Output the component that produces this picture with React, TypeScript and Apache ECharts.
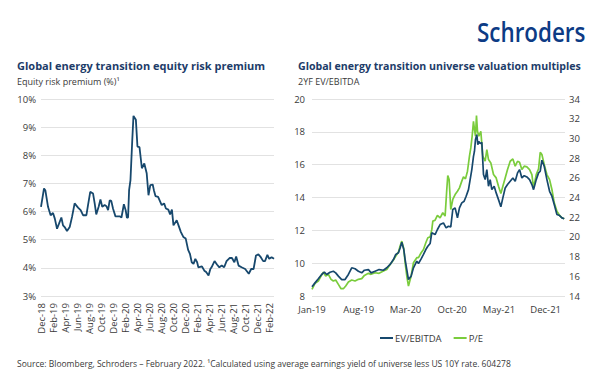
import React, { useEffect, useRef } from "react";
import * as echarts from "echarts";

// Left chart: equity risk premium (%), x = months since Dec-2018
const erpMonths = [0, 0.5, 0.72, 1.17, 1.6, 2.0, 2.3, 2.67, 3.0, 3.39, 3.67, 3.94, 4.33, 4.78, 5.17, 5.6, 6.17, 6.6, 7.0, 7.56, 7.83, 8.2, 8.67, 8.94, 9.2, 9.6, 9.9, 10.2, 10.6, 10.9, 11.17, 11.44, 11.7, 12.0, 12.4, 13.1, 13.4, 13.8, 14.1, 14.3, 14.5, 14.67, 14.9, 15.2, 15.4, 15.8, 16.06, 16.4, 16.8, 17.2, 17.6, 17.9, 18.2, 18.6, 18.8, 19.06, 19.5, 20.1, 20.5, 20.8, 21.2, 21.5, 21.8, 22.06, 22.6, 22.9, 23.3, 23.7, 24.1, 24.5, 24.8, 25.1, 25.4, 25.7, 26.0, 26.2, 26.8, 27.2, 27.5, 27.9, 28.2, 28.4, 28.9, 29.3, 29.7, 30.1, 30.5, 30.9, 31.4, 31.8, 32.2, 32.5, 32.9, 33.4, 34.0, 34.6, 35.0, 35.4, 35.8, 36.2, 36.6, 37.0, 37.3, 37.7, 38.0, 38.4, 38.8];
const erpValues = [6.17, 6.82, 6.76, 6.17, 5.87, 5.95, 5.75, 5.39, 5.57, 5.79, 5.51, 5.45, 5.31, 5.45, 5.81, 6.29, 6.14, 6.05, 5.87, 5.87, 6.23, 6.7, 6.64, 6.29, 5.9, 6.17, 6.43, 6.17, 6.23, 6.19, 6.05, 6.4, 6.38, 6.1, 5.83, 5.83, 5.79, 6.26, 6.05, 5.79, 5.79, 6.76, 7.12, 8.55, 9.4, 9.26, 8.31, 8.29, 7.54, 7.71, 7.36, 6.58, 6.94, 6.96, 6.76, 6.55, 6.52, 6.23, 6.29, 6.11, 6.07, 5.9, 6.07, 5.51, 5.69, 5.51, 5.27, 5.1, 5.04, 4.64, 4.5, 4.2, 4.14, 4.32, 4.2, 4.02, 4.05, 3.9, 3.85, 3.73, 3.96, 4.02, 4.24, 4.12, 4.02, 4.08, 4.02, 4.24, 4.35, 4.35, 4.2, 4.4, 4.08, 4.02, 3.96, 3.79, 3.96, 3.96, 4.44, 4.48, 4.38, 4.24, 4.24, 4.46, 4.32, 4.38, 4.32];

// Right chart: x = months since Jan-2019
const evMonths = [0, 0.45, 0.95, 1.45, 1.85, 2.2, 2.7, 3.2, 3.55, 3.95, 4.45, 4.95, 5.45, 5.95, 6.45, 6.95, 7.45, 7.85, 8.45, 8.85, 9.45, 10.05, 10.7, 11.2, 11.7, 12.2, 12.55, 12.95, 13.2, 13.45, 13.75, 13.95, 14.2, 14.45, 14.85, 15.2, 15.7, 15.95, 16.35, 16.7, 17.05, 17.35, 17.7, 17.94, 18.44, 18.79, 19.19, 19.69, 20.09, 20.44, 20.79, 21.09, 21.44, 21.79, 22.09, 22.44, 22.79, 23.09, 23.44, 23.69, 23.94, 24.19, 24.34, 24.49, 24.69, 24.84, 24.99, 25.19, 25.44, 25.69, 25.94, 26.19, 26.44, 26.69, 26.94, 27.29, 27.59, 27.94, 28.29, 28.59, 28.94, 29.29, 29.69, 30.09, 30.44, 30.79, 31.09, 31.44, 31.79, 32.19, 32.59, 32.94, 33.19, 33.59, 33.94, 34.19, 34.44, 34.79, 35.19, 35.59, 35.94, 36.29, 36.69, 37.09, 37.44, 37.79];
const evValues = [8.56, 8.8, 9.05, 9.31, 9.45, 9.31, 9.45, 9.51, 9.41, 9.21, 9.0, 9.0, 9.31, 9.72, 9.66, 9.51, 9.41, 9.57, 9.61, 9.41, 9.51, 9.61, 9.57, 9.72, 9.92, 10.22, 10.53, 10.63, 10.93, 11.28, 10.83, 10.22, 9.61, 9.0, 9.21, 9.72, 10.12, 9.98, 10.26, 10.53, 10.83, 11.03, 11.2, 11.85, 11.74, 12.05, 12.35, 12.45, 12.15, 12.25, 12.21, 13.27, 13.37, 12.76, 13.37, 13.67, 13.77, 14.08, 14.48, 15.09, 15.7, 16.51, 16.82, 17.53, 17.83, 17.22, 17.42, 17.28, 17.36, 15.4, 15.09, 15.7, 14.69, 15.09, 14.48, 14.69, 14.28, 13.87, 13.43, 13.98, 14.58, 14.79, 14.99, 15.19, 14.99, 15.5, 15.7, 15.19, 15.33, 15.25, 15.09, 14.79, 14.48, 15.09, 15.5, 15.6, 16.27, 15.9, 15.09, 14.38, 14.08, 13.57, 12.96, 12.9, 12.76, 12.7];

const peMonths = [0, 0.45, 0.95, 1.35, 1.7, 2.05, 2.45, 2.85, 3.2, 3.55, 3.95, 4.35, 4.7, 5.05, 5.45, 5.95, 6.45, 6.95, 7.45, 7.85, 8.45, 8.85, 9.45, 10.05, 10.7, 11.2, 11.7, 12.2, 12.55, 12.95, 13.2, 13.45, 13.75, 13.95, 14.2, 14.45, 14.85, 15.2, 15.7, 15.95, 16.35, 16.7, 17.05, 17.35, 17.7, 17.95, 18.1, 18.44, 18.79, 19.19, 19.59, 19.94, 20.19, 20.34, 20.54, 20.79, 21.09, 21.44, 21.79, 22.09, 22.44, 22.69, 22.99, 23.29, 23.59, 23.79, 23.99, 24.19, 24.34, 24.49, 24.64, 24.79, 24.99, 25.29, 25.59, 25.94, 26.19, 26.44, 26.79, 27.19, 27.59, 27.94, 28.29, 28.59, 28.94, 29.29, 29.69, 30.09, 30.44, 30.79, 31.09, 31.44, 31.79, 32.19, 32.59, 32.94, 33.19, 33.59, 33.94, 34.19, 34.44, 34.79, 35.19, 35.59, 35.94, 36.29, 36.69, 37.09, 37.44, 37.79];
const peValues = [14.68, 15.28, 15.52, 16.03, 16.43, 16.03, 16.2, 15.69, 15.52, 15.62, 15.18, 14.74, 14.74, 15.01, 15.42, 15.62, 15.52, 15.69, 15.76, 16.09, 16.3, 16.2, 16.36, 16.3, 16.53, 16.7, 17.2, 17.65, 18.05, 18.46, 19.07, 19.57, 18.8, 17.38, 16.03, 15.01, 16.03, 17.38, 17.89, 17.89, 18.39, 18.73, 19.41, 19.91, 20.0, 20.76, 21.6, 21.7, 22.18, 21.94, 22.45, 22.11, 24.81, 26.23, 25.82, 22.78, 23.8, 24.3, 24.64, 24.98, 25.66, 26.09, 25.89, 26.67, 28.19, 29.03, 30.22, 31.74, 30.89, 30.22, 32.31, 30.72, 30.22, 30.72, 28.19, 27.68, 28.86, 27.85, 27.51, 26.33, 25.99, 25.15, 24.41, 25.15, 25.99, 26.84, 27.68, 27.92, 27.18, 27.68, 27.58, 26.84, 27.18, 27.11, 26.84, 26.33, 24.98, 26.33, 26.91, 28.59, 28.36, 27.34, 26.33, 25.82, 24.81, 23.46, 22.61, 22.18, 21.94, 21.84];

const monthNames = ["Jan", "Feb", "Mar", "Apr", "May", "Jun", "Jul", "Aug", "Sep", "Oct", "Nov", "Dec"];
const seriesNames = ["EV/EBITDA", "P/E"];

const NAVY = "#17486d";
const GREEN = "#7acc3c";
const TXT = "#3a3a3a";
const GRIDC = "#e2e2e2";
const FONT = "Open Sans";

function monthLabel(offset: number, startYear: number, startMonth: number) {
  if (Math.abs(offset - Math.round(offset)) > 1e-6) return "";
  const idx = startMonth + Math.round(offset);
  const y = startYear + Math.floor(idx / 12);
  const m = idx % 12;
  return monthNames[m] + "-" + String(y % 100).padStart(2, "0");
}

function zip(xs: number[], ys: number[]) {
  return xs.map((x, i) => [x, ys[i]]);
}

export default function App() {
  const ref = useRef<HTMLDivElement>(null);
  useEffect(() => {
    if (!ref.current) return;
    const chart = echarts.init(ref.current, undefined, { renderer: "svg" });
    const axisLabelBase = { color: TXT, fontSize: 9.5, fontFamily: FONT };
    chart.setOption({
      animation: false,
      textStyle: { fontFamily: FONT },
      grid: [
        { left: 41, top: 99, width: 233, height: 197 },
        { left: 312, top: 99, width: 253, height: 197 },
      ],
      legend: {
        left: 375,
        top: 328,
        itemWidth: 13,
        itemHeight: 2,
        itemGap: 12,
        icon: "rect",
        data: seriesNames,
        textStyle: { color: TXT, fontSize: 9.5, fontFamily: FONT, padding: [0, 0, 0, -3] },
      },
      xAxis: [
        {
          type: "value",
          gridIndex: 0,
          min: 0,
          max: 38.8,
          interval: 2,
          axisLine: { show: false },
          axisTick: { show: false },
          splitLine: { show: false },
          axisLabel: {
            ...axisLabelBase,
            rotate: 90,
            margin: 7,
            showMaxLabel: false,
            formatter: (v: number) => monthLabel(v, 2018, 11),
          },
        },
        {
          type: "value",
          gridIndex: 1,
          min: 0,
          max: 37.9,
          interval: 7,
          axisLine: { show: false },
          axisTick: { show: false },
          splitLine: { show: false },
          axisLabel: {
            ...axisLabelBase,
            margin: 8,
            showMaxLabel: false,
            formatter: (v: number) => monthLabel(v, 2019, 0),
          },
        },
      ],
      yAxis: [
        {
          type: "value",
          gridIndex: 0,
          min: 3,
          max: 10,
          interval: 1,
          axisLine: { show: false },
          axisTick: { show: false },
          splitLine: { lineStyle: { color: GRIDC, width: 1 } },
          axisLabel: { ...axisLabelBase, margin: 5, formatter: "{value}%" },
        },
        {
          type: "value",
          gridIndex: 1,
          min: 8,
          max: 20,
          interval: 2,
          axisLine: { show: false },
          axisTick: { show: false },
          splitLine: { lineStyle: { color: GRIDC, width: 1 } },
          axisLabel: { ...axisLabelBase, margin: 7 },
        },
        {
          type: "value",
          gridIndex: 1,
          position: "right",
          min: 14,
          max: 34,
          interval: 2,
          axisLine: { show: false },
          axisTick: { show: false },
          splitLine: { show: false },
          axisLabel: { ...axisLabelBase, margin: 4 },
        },
      ],
      series: [
        {
          name: "ERP",
          type: "line",
          xAxisIndex: 0,
          yAxisIndex: 0,
          data: zip(erpMonths, erpValues),
          symbol: "none",
          lineStyle: { color: NAVY, width: 1.8 },
          itemStyle: { color: NAVY },
        },
        {
          name: seriesNames[1],
          type: "line",
          xAxisIndex: 1,
          yAxisIndex: 2,
          data: zip(peMonths, peValues),
          symbol: "none",
          lineStyle: { color: GREEN, width: 1.7 },
          itemStyle: { color: GREEN },
        },
        {
          name: seriesNames[0],
          type: "line",
          xAxisIndex: 1,
          yAxisIndex: 1,
          data: zip(evMonths, evValues),
          symbol: "none",
          lineStyle: { color: NAVY, width: 1.7 },
          itemStyle: { color: NAVY },
        },
      ],
      graphic: [
        {
          type: "text",
          x: 477,
          y: 31,
          scaleX: 0.83,
          style: {
            text: "Schroders",
            font: '600 27px "Open Sans"',
            fill: "#0d3b85",
            textAlign: "left",
            textVerticalAlign: "middle",
          },
        },
        {
          type: "text",
          x: 17,
          y: 65,
          style: {
            text: "Global energy transition equity risk premium",
            font: 'bold 11px "Open Sans"',
            fill: "#1d3c69",
            textVerticalAlign: "middle",
          },
        },
        {
          type: "text",
          x: 17,
          y: 81,
          style: {
            text: "Equity risk premium (%)¹",
            font: '9px "Open Sans"',
            fill: TXT,
            textVerticalAlign: "middle",
          },
        },
        {
          type: "text",
          x: 298,
          y: 65,
          scaleX: 0.965,
          style: {
            text: "Global energy transition universe valuation multiples",
            font: 'bold 11px "Open Sans"',
            fill: "#1d3c69",
            textVerticalAlign: "middle",
          },
        },
        {
          type: "text",
          x: 298,
          y: 81,
          style: {
            text: "2YF EV/EBITDA",
            font: '9px "Open Sans"',
            fill: TXT,
            textVerticalAlign: "middle",
          },
        },
        {
          type: "text",
          x: 17,
          y: 363,
          style: {
            text: "Source: Bloomberg, Schroders – February 2022. ¹Calculated using average earnings yield of universe less US 10Y rate. 604278",
            font: '8.5px "Open Sans"',
            fill: TXT,
            textVerticalAlign: "middle",
          },
        },
      ],
    });
    return () => chart.dispose();
  }, []);
  return (
    <div
      ref={ref}
      style={{ width: 600, height: 382, position: "absolute", left: 0, top: 0, background: "#fff" }}
    />
  );
}
